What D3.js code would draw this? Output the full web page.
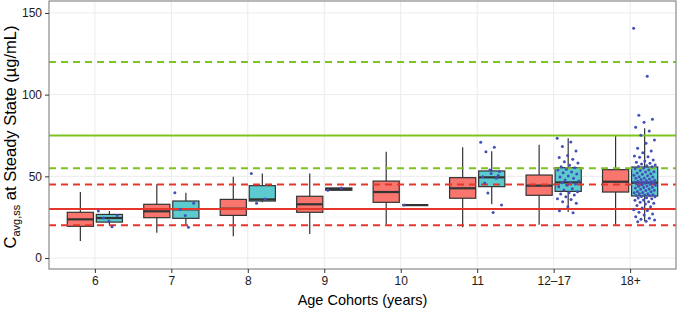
<!DOCTYPE html>
<html>
<head>
<meta charset="utf-8">
<script src="https://cdn.jsdelivr.net/npm/d3@7"></script>
<style>
  body { margin: 0; background: #fff; }
  svg { font-family: "Liberation Sans", Arial, sans-serif; }
</style>
</head>
<body>
<svg id="chart"></svg>
<script>
const cohorts = ["6", "7", "8", "9", "10", "11", "12–17", "18+"];
const groups = ["Simulated", "Observed"];

// box summaries: lower whisker, q1, median, q3, upper whisker
const simLow  = [10.4, 15.5, 13.3, 14.7, 20.6, 18.8, 20.4, 20.4];
const simQ1   = [19.4, 24.7, 26.1, 28.0, 34.1, 36.6, 38.4, 40.4];
const simMed  = [23.7, 28.6, 30.2, 32.9, 40.4, 42.7, 44.3, 46.7];
const simQ3   = [28.0, 32.9, 35.9, 37.8, 47.1, 49.2, 50.8, 54.1];
const simHigh = [40.4, 45.1, 49.8, 51.8, 65.1, 67.8, 69.4, 74.7];

const obsLow  = [20.2, 20.2, 34.1, 41.5, 32.4, 32.9, 28.2, 22.5];
const obsQ1   = [22.0, 24.3, 34.9, 41.5, 32.4, 43.7, 40.8, 38.0];
const obsMed  = [24.5, 29.8, 35.9, 42.2, 32.4, 49.4, 46.3, 46.1];
const obsQ3   = [26.7, 34.9, 44.3, 42.9, 32.4, 53.3, 55.3, 55.7];
const obsHigh = [28.8, 40.0, 51.8, 42.9, 32.4, 65.3, 73.3, 79.4];

// observed individual values
const obs6 = [28.8, 19.2, 24.5, 26.0, 22.6];
const obs7 = [40.0, 18.8, 29.8, 33.5, 26.0];
const obs8 = [51.8, 36.1, 33.5];
const obs9 = [41.5, 42.9];
const obs10 = [32.4];
const obs11 = [70.8, 67.8, 65.1, 52.9, 51.8, 49.8, 48.8, 39.8, 32.4, 27.8, 46.0, 50.5, 53.9];
const obs1217 = [73.3, 71.0, 68.2, 65.5, 62.7, 61.6, 60.4, 59.0, 58.1, 56.8, 55.9, 55.3, 54.3,
  53.9, 52.7, 52.2, 51.4, 50.2, 49.6, 48.8, 47.8, 47.1, 46.4, 46.1, 45.3, 44.5, 43.7, 42.4,
  41.6, 40.6, 40.0, 39.2, 38.6, 37.5, 36.3, 35.9, 34.4, 33.5, 31.4, 29.0, 27.7];
const obs18 = [140.6, 111.2, 87.4, 84.9, 83.1, 80.0, 77.8, 75.2, 72.3, 70.2, 67.2, 65.5, 64.5,
  62.4, 62.0, 61.7, 60.0, 59.4, 58.6, 58.0, 57.6, 56.9, 56.5, 56.1, 55.9,
  55.1, 54.7, 53.9, 53.6, 52.8, 52.7, 52.0, 51.6, 51.3, 50.6, 50.4, 49.8, 49.6, 49.0, 48.9,
  48.3, 48.1, 47.6, 47.5, 47.0, 46.9, 46.6, 46.5, 46.3, 46.2,
  46.0, 45.8, 45.3, 45.2, 44.7, 44.6, 44.1, 43.9, 43.4, 43.2, 42.8, 42.3, 42.1, 41.5, 41.4,
  40.8, 40.6, 40.1, 39.9, 39.4, 39.3, 38.8, 38.6, 38.3, 38.1,
  37.7, 37.5, 36.9, 36.7, 36.3, 35.5, 35.3, 34.5, 34.1, 33.5, 33.1, 32.2, 31.4, 30.7, 29.6,
  29.1, 28.0, 27.0, 26.3, 25.3, 24.3, 23.7, 23.3, 22.5, 22.2];
const obsPoints = [obs6, obs7, obs8, obs9, obs10, obs11, obs1217, obs18];

// reference lines
const redSolid = [30];
const redDashed = [20, 45];
const greenSolid = [75];
const greenDashed = [55, 120];

const yTicks = [0, 50, 100, 150];
const yMinor = [25, 75, 125];

const width = 677;
const height = 312;
const margin = { top: 1, right: 1, bottom: 43, left: 49 };

const svg = d3.select("#chart")
  .attr("width", width)
  .attr("height", height);

const x = d3.scalePoint()
  .domain(cohorts)
  .range([margin.left, width - margin.right])
  .padding(0.6);

const xSub = d3.scaleBand()
  .domain(groups)
  .range([-0.38 * x.step(), 0.38 * x.step()])
  .paddingInner(0.1)
  .paddingOuter(0.05);

const y = d3.scaleLinear()
  .domain([-6.7, 157.3])
  .range([height - margin.bottom, margin.top]);

const pTop = margin.top, pBottom = height - margin.bottom;
const pLeft = margin.left, pRight = width - margin.right;

// grid
svg.append("g").selectAll("line")
  .data(yMinor)
  .join("line")
  .attr("x1", pLeft).attr("x2", pRight)
  .attr("y1", d => y(d)).attr("y2", d => y(d))
  .attr("stroke", "#f4f4f4").attr("stroke-width", 0.8);

svg.append("g").selectAll("line")
  .data(yTicks)
  .join("line")
  .attr("x1", pLeft).attr("x2", pRight)
  .attr("y1", d => y(d)).attr("y2", d => y(d))
  .attr("stroke", "#ebebeb").attr("stroke-width", 1);

svg.append("g").selectAll("line")
  .data(cohorts)
  .join("line")
  .attr("x1", d => x(d)).attr("x2", d => x(d))
  .attr("y1", pTop).attr("y2", pBottom)
  .attr("stroke", "#ebebeb").attr("stroke-width", 1);

// box data
const boxes = [];
cohorts.forEach((c, i) => {
  boxes.push({ cohort: c, group: "Simulated", lo: simLow[i], q1: simQ1[i], med: simMed[i], q3: simQ3[i], hi: simHigh[i] });
  boxes.push({ cohort: c, group: "Observed", lo: obsLow[i], q1: obsQ1[i], med: obsMed[i], q3: obsQ3[i], hi: obsHigh[i] });
});

const color = d3.scaleOrdinal()
  .domain(groups)
  .range(["#f8766d", "#5ccbcf"]);

const bw = xSub.bandwidth();
const bx = d => x(d.cohort) + xSub(d.group);

const boxG = svg.append("g").selectAll("g")
  .data(boxes)
  .join("g");

boxG.append("line")
  .attr("x1", d => bx(d) + bw / 2).attr("x2", d => bx(d) + bw / 2)
  .attr("y1", d => y(d.hi)).attr("y2", d => y(d.q3))
  .attr("stroke", "#333").attr("stroke-width", 1.2);

boxG.append("line")
  .attr("x1", d => bx(d) + bw / 2).attr("x2", d => bx(d) + bw / 2)
  .attr("y1", d => y(d.q1)).attr("y2", d => y(d.lo))
  .attr("stroke", "#333").attr("stroke-width", 1.2);

boxG.append("rect")
  .attr("x", bx)
  .attr("width", bw)
  .attr("y", d => y(d.q3))
  .attr("height", d => Math.max(0, y(d.q1) - y(d.q3)))
  .attr("fill", d => color(d.group))
  .attr("stroke", "#333")
  .attr("stroke-width", 1.2);

boxG.append("line")
  .attr("x1", bx).attr("x2", d => bx(d) + bw)
  .attr("y1", d => y(d.med)).attr("y2", d => y(d.med))
  .attr("stroke", "#333").attr("stroke-width", 2.2);

// reference lines
const hline = (vals, col, dash) => {
  svg.append("g").selectAll("line")
    .data(vals)
    .join("line")
    .attr("x1", pLeft).attr("x2", pRight)
    .attr("y1", d => y(d)).attr("y2", d => y(d))
    .attr("stroke", col)
    .attr("stroke-width", 2)
    .attr("stroke-dasharray", dash);
};
hline(redSolid, "#e5362b", null);
hline(redDashed, "#e5362b", "7,5");
hline(greenSolid, "#7cc420", null);
hline(greenDashed, "#7cc420", "7,5");

// jittered observed points
const pts = [];
obsPoints.forEach((arr, i) => {
  arr.forEach((v, j) => pts.push({ cohort: cohorts[i], v, j }));
});
const jit = j => (((j * 0.618034) % 1) - 0.5) * 22;

svg.append("g").selectAll("circle")
  .data(pts)
  .join("circle")
  .attr("cx", d => x(d.cohort) + xSub("Observed") + bw / 2 + jit(d.j))
  .attr("cy", d => y(d.v))
  .attr("r", 1.5)
  .attr("fill", "#4350b8");

// panel border
svg.append("rect")
  .attr("x", pLeft).attr("y", pTop)
  .attr("width", pRight - pLeft).attr("height", pBottom - pTop)
  .attr("fill", "none")
  .attr("stroke", "#8a8a8a")
  .attr("stroke-width", 1.2);

// axes
const xAxis = svg.append("g")
  .attr("transform", `translate(0,${pBottom})`)
  .call(d3.axisBottom(x).tickSize(4).tickPadding(3));
const yAxis = svg.append("g")
  .attr("transform", `translate(${pLeft},0)`)
  .call(d3.axisLeft(y).tickValues(yTicks).tickSize(4).tickPadding(3));

[xAxis, yAxis].forEach(a => {
  a.select(".domain").remove();
  a.selectAll(".tick line").attr("stroke", "#333");
  a.selectAll(".tick text")
    .attr("fill", "#1a1a1a")
    .style("font-size", "12px")
    .style("font-family", "Liberation Sans, Arial, sans-serif");
});

svg.append("text")
  .attr("x", (pLeft + pRight) / 2)
  .attr("y", 305)
  .attr("text-anchor", "middle")
  .style("font-size", "14.5px")
  .attr("fill", "#000")
  .text("Age Cohorts (years)");

const yTitle = svg.append("text")
  .attr("transform", `translate(16,${(pTop + pBottom) / 2 + 2}) rotate(-90)`)
  .attr("text-anchor", "middle")
  .style("font-size", "16.5px")
  .attr("fill", "#000");
yTitle.append("tspan").text("C");
yTitle.append("tspan").attr("dy", 4).style("font-size", "11px").text("avg,ss");
yTitle.append("tspan").attr("dy", -4).text(" at Steady State (\u00b5g/mL)");
</script>
</body>
</html>
